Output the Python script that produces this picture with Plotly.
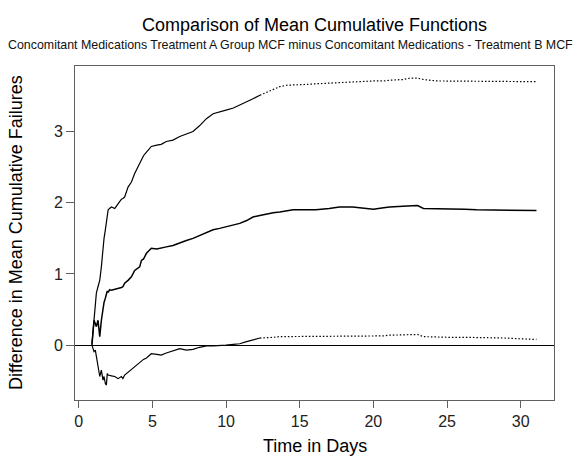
import plotly.graph_objects as go

days = [0.9, 1.04, 1.13, 1.2, 1.31, 1.43, 1.54, 1.65, 1.72, 1.81, 1.88, 1.94, 2.0, 2.1,
        2.22, 2.45, 2.67, 2.9, 3.0, 3.12, 3.35, 3.58, 3.8, 4.14, 4.26, 4.4, 4.6, 4.93,
        5.3, 5.6, 5.95, 6.4, 6.86, 7.31, 7.76, 8.2, 8.67, 9.12, 9.57, 10.0, 10.5, 10.93,
        11.4, 11.83, 12.3, 12.74, 13.2, 13.65, 14.1, 14.55, 15.3, 16.1, 17.0, 17.7, 18.6,
        19.5, 20.0, 20.7, 21.1, 22.0, 22.5, 23.0, 23.4, 24.3, 25.2, 26.2, 27.0, 28.0,
        29.0, 29.9, 31.07]

upper = [0.02, 0.40, 0.55, 0.73, 0.82, 0.91, 1.10, 1.38, 1.50, 1.62, 1.75, 1.86, 1.90, 1.92,
         1.94, 1.92, 1.99, 2.05, 2.06, 2.08, 2.22, 2.29, 2.41, 2.55, 2.60, 2.66, 2.71, 2.79,
         2.81, 2.82, 2.86, 2.88, 2.93, 2.96, 3.00, 3.08, 3.18, 3.25, 3.28, 3.30, 3.33, 3.37,
         3.41, 3.46, 3.51, 3.55, 3.59, 3.63, 3.65, 3.65, 3.66, 3.67, 3.68, 3.69, 3.70,
         3.70, 3.71, 3.71, 3.72, 3.73, 3.75, 3.75, 3.73, 3.71, 3.71, 3.71, 3.71, 3.71,
         3.70, 3.70, 3.70]

mcf_diff = [0.0, 0.35, 0.30, 0.26, 0.35, 0.12, 0.35, 0.54, 0.60, 0.66, 0.73, 0.76, 0.74, 0.78,
            0.77, 0.78, 0.80, 0.81, 0.82, 0.87, 0.91, 0.96, 1.05, 1.10, 1.19, 1.21, 1.29, 1.36,
            1.35, 1.36, 1.38, 1.40, 1.44, 1.47, 1.50, 1.54, 1.58, 1.62, 1.64, 1.66, 1.68, 1.71,
            1.75, 1.80, 1.82, 1.84, 1.86, 1.87, 1.89, 1.90, 1.90, 1.90, 1.92, 1.94, 1.94,
            1.92, 1.91, 1.93, 1.94, 1.95, 1.96, 1.96, 1.92, 1.92, 1.91, 1.91, 1.90, 1.90,
            1.90, 1.89, 1.89]

lower = [0.0, -0.09, -0.07, -0.16, -0.30, -0.44, -0.35, -0.49, -0.44, -0.54, -0.56, -0.40, -0.42, -0.42,
         -0.43, -0.44, -0.47, -0.44, -0.47, -0.42, -0.38, -0.35, -0.30, -0.25, -0.23, -0.20, -0.18, -0.12,
         -0.13, -0.14, -0.11, -0.08, -0.05, -0.07, -0.06, -0.03, -0.01, -0.01, 0.00, 0.00, 0.01, 0.02,
         0.05, 0.07, 0.10, 0.10, 0.11, 0.12, 0.12, 0.12, 0.12, 0.12, 0.12, 0.13, 0.13,
         0.13, 0.12, 0.13, 0.14, 0.14, 0.15, 0.15, 0.12, 0.11, 0.11, 0.11, 0.11, 0.10,
         0.10, 0.09, 0.08]

dotted_from_day = 12.3
x_ticks = [0, 5, 10, 15, 20, 25, 30]
y_ticks = [0, 1, 2, 3]

title = "Comparison of Mean Cumulative Functions"
subtitle = "Concomitant Medications Treatment A Group MCF minus Concomitant Medications - Treatment B MCF"
x_title = "Time in Days"
y_title = "Difference in Mean Cumulative Failures"

split = days.index(dotted_from_day)
FONT = "Liberation Sans, Arial, sans-serif"

fig = go.Figure()
for series in (upper, lower):
    fig.add_trace(go.Scatter(x=days[:split + 1], y=series[:split + 1], mode="lines",
                             line=dict(color="black", width=1.2), showlegend=False,
                             hoverinfo="skip"))
    fig.add_trace(go.Scatter(x=days[split:], y=series[split:], mode="lines",
                             line=dict(color="black", width=1.2, dash="1.5px,2px"),
                             showlegend=False, hoverinfo="skip"))
fig.add_trace(go.Scatter(x=days, y=mcf_diff, mode="lines",
                         line=dict(color="black", width=1.5), showlegend=False,
                         hoverinfo="skip"))

axis_common = dict(showline=True, mirror=True, linecolor="#606060", linewidth=1,
                   showgrid=False, ticks="outside", tickcolor="#606060", tickwidth=1,
                   tickfont=dict(family=FONT, size=16, color="#222222"))

fig.update_xaxes(range=[-0.25, 32.26], tickvals=x_ticks, ticklen=7, zeroline=False,
                 **axis_common)
fig.update_yaxes(range=[-0.77, 3.92], tickvals=y_ticks, ticklen=8, zeroline=True,
                 zerolinecolor="black", zerolinewidth=1, **axis_common)

fig.update_layout(
    width=579, height=456,
    margin=dict(l=75, r=25, t=66, b=56),
    paper_bgcolor="white", plot_bgcolor="white",
    title=dict(text=title, font=dict(family=FONT, size=18, color="black"),
               x=0.5, xref="paper", xanchor="center",
               y=1 - 25 / 456, yref="container", yanchor="middle"),
    annotations=[
        dict(text=subtitle, xref="paper", yref="paper", x=(290 - 75) / 479,
             y=(400 - 45) / 334, xanchor="center", yanchor="middle", showarrow=False,
             font=dict(family=FONT, size=12.4, color="#111111")),
        dict(text=x_title, xref="paper", yref="paper", x=0.5, y=(400 - 446) / 334,
             xanchor="center", yanchor="middle", showarrow=False,
             font=dict(family=FONT, size=18, color="black")),
        dict(text=y_title, xref="paper", yref="paper", x=(16 - 75) / 479, y=0.5,
             xanchor="center", yanchor="middle", showarrow=False, textangle=-90,
             font=dict(family=FONT, size=18, color="black")),
    ],
)

fig.write_html("out.html", config={"displayModeBar": False},
               post_script="document.body.style.margin='0';")
